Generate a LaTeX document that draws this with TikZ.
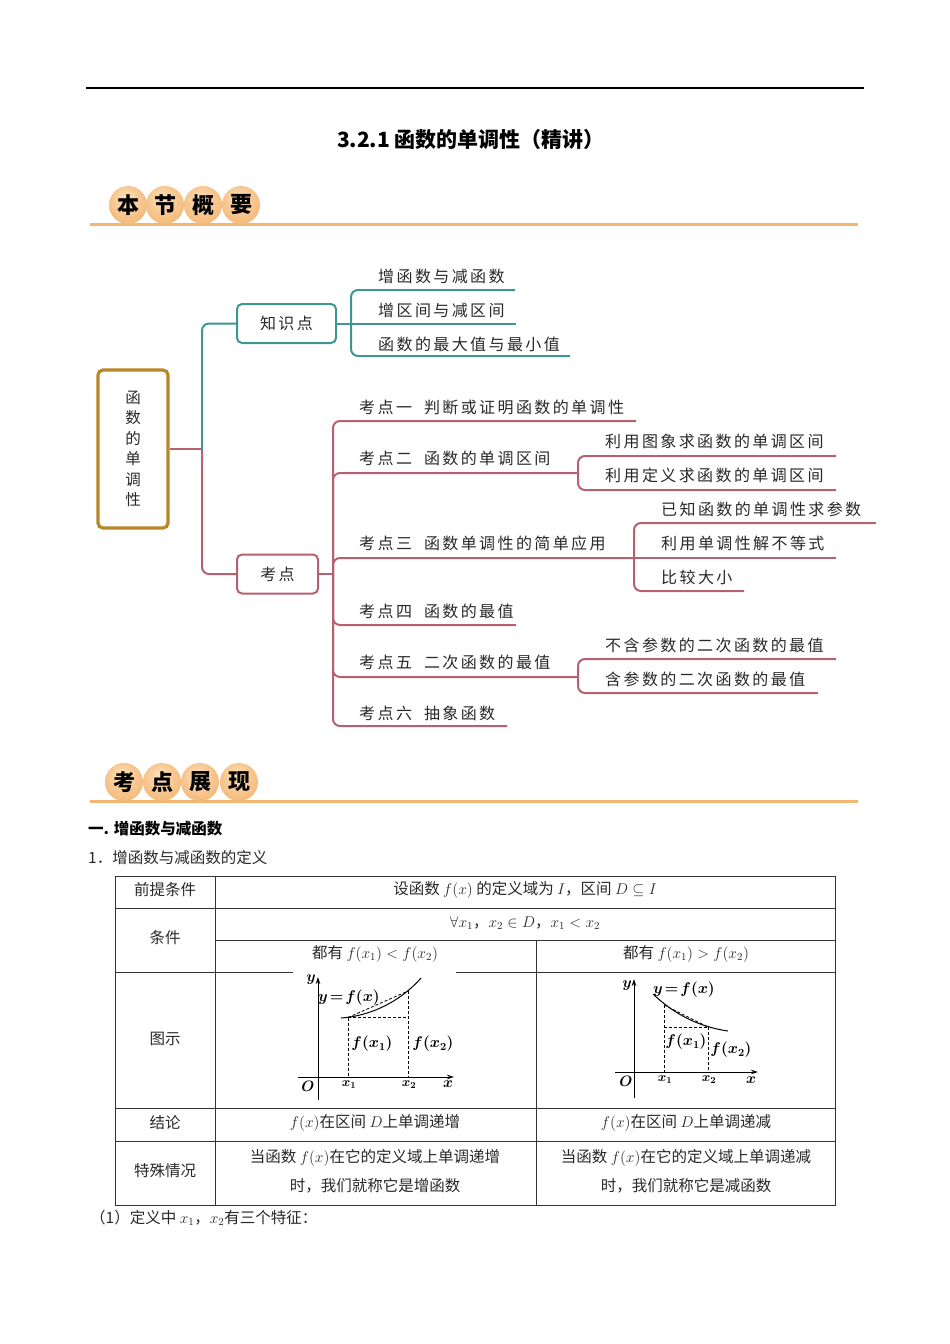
\documentclass[tikz,border=0pt]{standalone}
\usepackage{fix-cm}
\usepackage{fontspec}
\setmainfont{Noto Sans CJK SC}
\newfontfamily\mmfont[LetterSpace=15]{Noto Sans CJK SC}
\usetikzlibrary{arrows.meta}
\definecolor{tealc}{RGB}{62,150,146}
\definecolor{pinkc}{RGB}{182,96,112}
\definecolor{goldc}{RGB}{185,135,40}
\definecolor{bandc}{RGB}{242,182,112}
\definecolor{badgeA}{RGB}{253,226,188}
\definecolor{badgeB}{RGB}{238,160,82}
\definecolor{txtc}{RGB}{40,40,40}
\pgfdeclareradialshading{badge}{\pgfpoint{-4bp}{10bp}}{color(0bp)=(badgeA); color(18bp)=(badgeA!60!badgeB); color(50bp)=(badgeB)}
\begin{document}
\begin{tikzpicture}[x=1pt,y=-1pt,
  lbl/.style={anchor=base west, inner sep=0pt, text=txtc, font=\mmfont\fontsize{16}{16}\selectfont},
  tl/.style={line width=2pt, tealc, rounded corners=7pt},
  pl/.style={line width=2pt, pinkc, rounded corners=7pt},
  tbl/.style={line width=0.9pt, black!80},
  tx/.style={inner sep=0pt, text=txtc, font=\fontsize{15.5}{29}\selectfont, align=center},
  ax/.style={line width=1pt, -{Stealth[length=7pt,width=4.5pt]}},
  gl/.style={inner sep=0pt, font=\fontsize{15.5}{15}\selectfont\boldmath},
  gs/.style={inner sep=0pt, font=\fontsize{13}{13}\selectfont\boldmath},
  gm/.style={inner sep=0pt, font=\fontsize{15}{15}\selectfont\boldmath},
  dsh/.style={line width=0.8pt, dash pattern=on 3pt off 2pt},
  bdg/.style={inner sep=0pt, font=\bfseries\fontsize{22}{22}\selectfont}
]
\useasboundingbox (0,0) rectangle (950,1344);
% top rule and title
\draw[line width=1.3pt] (86,88) coordinate (r1) -- (864,88) coordinate (r2);
\node[inner sep=0pt, font=\bfseries\fontsize{21}{21}\selectfont] (title) at (471,140) {3.2.1 函数的单调性（精讲）};
% badge 1
\draw[bandc, line width=3pt] (90,224) coordinate (b1s) -- (858,224) coordinate (b1e);
\foreach \c/\t [count=\i] in {128/本,165/节,203/概,241/要}{
  \shade[shading=badge] (\c,205) circle (19);
  \node[bdg] (ba\i) at (\c,205) {\t};
}
% badge 2
\draw[bandc, line width=3pt] (90,801) coordinate (b2s) -- (858,801) coordinate (b2e);
\foreach \c/\t [count=\i] in {124/考,162/点,200/展,239/现}{
  \shade[shading=badge] (\c,782) circle (19);
  \node[bdg] (bb\i) at (\c,782) {\t};
}
% mind map
\node[draw=goldc, line width=3.2pt, rounded corners=5pt, minimum width=70pt, minimum height=158pt, inner sep=0pt] (root) at (133,449) {};
\node[inner sep=0pt, text=txtc, align=center, font=\fontsize{15.5}{20.5}\selectfont] (roott) at (133,449) {函\\数\\的\\单\\调\\性};
\node[draw=tealc, line width=2pt, rounded corners=5pt, minimum width=99pt, minimum height=39pt, inner sep=0pt, text=txtc, font=\mmfont\fontsize{16}{16}\selectfont] (zsd) at (286.5,323.5) {知识点};
\node[draw=pinkc, line width=2pt, rounded corners=5pt, minimum width=81pt, minimum height=39pt, inner sep=0pt, text=txtc, font=\mmfont\fontsize{16}{16}\selectfont] (kd) at (277.5,574) {考点};
\coordinate (hub) at (202,449);
\draw[pinkc, line width=2pt] (root.east) -- (hub);
\draw[tl] (hub) |- (zsd.west);
\draw[pl] (hub) |- (kd.west);
% knowledge branch
\coordinate (zb) at (351,323.5);
\draw[tealc, line width=2pt] (zsd.east) -- (zb);
\coordinate (z1) at (515,290);
\coordinate (z2) at (516,323.5);
\coordinate (z3) at (570,356);
\draw[tl] (zb) |- (z1);
\draw[tl] (zb) -- (z2);
\draw[tl] (zb) |- (z3);
\node[lbl] (zt1) at (378,282) {增函数与减函数};
\node[lbl] (zt2) at (378,316) {增区间与减区间};
\node[lbl] (zt3) at (378,350) {函数的最大值与最小值};
% kaodian branch
\coordinate (kb) at (333,574);
\draw[pinkc, line width=2pt] (kd.east) -- (kb);
\coordinate (k1) at (636,421);
\coordinate (k2) at (578,473);
\coordinate (k3) at (634,558);
\coordinate (k4) at (516,625);
\coordinate (k5) at (578,677);
\coordinate (k6) at (507,726);
\draw[pl] (kb) |- (k1);
\draw[pl] (kb) |- (k2);
\draw[pl] (kb) |- (k3);
\draw[pl] (kb) |- (k4);
\draw[pl] (kb) |- (k5);
\draw[pl] (kb) |- (k6);
\node[lbl] (kt1) at (359,413) {考点一\hspace{12pt}判断或证明函数的单调性};
\node[lbl] (kt2) at (359,464) {考点二\hspace{12pt}函数的单调区间};
\node[lbl] (kt3) at (359,549) {考点三\hspace{12pt}函数单调性的简单应用};
\node[lbl] (kt4) at (359,617) {考点四\hspace{12pt}函数的最值};
\node[lbl] (kt5) at (359,668) {考点五\hspace{12pt}二次函数的最值};
\node[lbl] (kt6) at (359,719) {考点六\hspace{12pt}抽象函数};
% sub of k2
\coordinate (k21) at (836,456);
\coordinate (k22) at (836,490);
\draw[pl] (k2) |- (k21);
\draw[pl] (k2) |- (k22);
\node[lbl] (k2t1) at (605,447) {利用图象求函数的单调区间};
\node[lbl] (k2t2) at (605,481) {利用定义求函数的单调区间};
% sub of k3
\coordinate (k31) at (876,523);
\coordinate (k32) at (836,558);
\coordinate (k33) at (744,591);
\draw[pl] (k3) |- (k31);
\draw[pl] (k3) -- (k32);
\draw[pl] (k3) |- (k33);
\node[lbl] (k3t1) at (661,515) {已知函数的单调性求参数};
\node[lbl] (k3t2) at (661,549) {利用单调性解不等式};
\node[lbl] (k3t3) at (661,583) {比较大小};
% sub of k5
\coordinate (k51) at (836,659);
\coordinate (k52) at (818,693);
\draw[pl] (k5) |- (k51);
\draw[pl] (k5) |- (k52);
\node[lbl] (k5t1) at (605,651) {不含参数的二次函数的最值};
\node[lbl] (k5t2) at (605,685) {含参数的二次函数的最值};
% section heading
\node[anchor=west, inner sep=0pt, font=\bfseries\fontsize{15.5}{16}\selectfont] (sec1) at (88,829) {一. 增函数与减函数};
\node[anchor=west, inner sep=0pt, text=txtc, font=\fontsize{15.5}{16}\selectfont] (sub1) at (88,858) {1．增函数与减函数的定义};
% table
\draw[tbl] (115,876) rectangle (835,1205);
\draw[tbl] (115,908) -- (835,908);
\draw[tbl] (215,940) -- (835,940);
\draw[tbl] (115,972) -- (293,972);
\draw[tbl] (456,972) -- (835,972);
\draw[tbl] (115,1108) -- (835,1108);
\draw[tbl] (115,1141) -- (835,1141);
\draw[tbl] (215,876) -- (215,1205);
\draw[tbl] (536,940) -- (536,1205);
\node[tx] (c11) at (165,890) {前提条件};
\node[tx] (c12) at (525,890) {设函数 $f(x)$ 的定义域为 $I$，区间 $D\subseteq I$};
\node[tx] (c21) at (165,938) {条件};
\node[tx] (c22) at (525,923) {$\forall x_1$，$x_2\in D$，$x_1<x_2$};
\node[tx] (c23) at (375,954) {都有 $f(x_1)<f(x_2)$};
\node[tx] (c24) at (686,954) {都有 $f(x_1)>f(x_2)$};
\node[tx] (c31) at (165,1039) {图示};
\node[tx] (c41) at (165,1123) {结论};
\node[tx] (c42) at (375,1123) {$f(x)$在区间 $D$上单调递增};
\node[tx] (c43) at (686,1123) {$f(x)$在区间 $D$上单调递减};
\node[tx] (c51) at (165,1171) {特殊情况};
\node[tx] (c52) at (375,1171) {当函数 $f(x)$在它的定义域上单调递增\\时，我们就称它是增函数};
\node[tx] (c53) at (686,1171) {当函数 $f(x)$在它的定义域上单调递减\\时，我们就称它是减函数};
\node[anchor=west, inner sep=0pt, text=txtc, font=\fontsize{15.5}{16}\selectfont] (note) at (90,1218) {（1）定义中 $x_1$，$x_2$有三个特征：};
% left graph
\coordinate (ly0) at (318,1100); \coordinate (ly1) at (318,977);
\coordinate (lx0) at (298,1077); \coordinate (lx1) at (454,1077);
\draw[ax] (ly0) -- (ly1);
\draw[ax] (lx0) -- (lx1);
\coordinate (lp1) at (348,1017.5); \coordinate (lp2) at (408,991);
\draw[line width=1pt] (341,1018) .. controls (370,1016) and (400,1002) .. (421,978);
\draw[dsh] (lp1) -- (lp2);
\draw[dsh] (lp1) -- (408,1017.5);
\draw[dsh] (lp1) -- (348,1077);
\draw[dsh] (lp2) -- (408,1077);
\node[gl] (ll1) at (349,998) {$y\!=\!f(x)$};
\node[gl] (ll2) at (372,1044) {$f(x_1)$};
\node[gl] (ll3) at (433,1044) {$f(x_2)$};
\node[gm] (llo) at (308,1086) {$O$};
\node[gs] (llx1) at (349,1085) {$x_1$};
\node[gs] (llx2) at (409,1085) {$x_2$};
\node[gm] (llx) at (448,1084) {$x$};
\node[gm] (lly) at (311,980) {$y$};
% right graph
\coordinate (ry0) at (634,1098); \coordinate (ry1) at (634,979);
\coordinate (rx0) at (615,1072); \coordinate (rx1) at (758,1072);
\draw[ax] (ry0) -- (ry1);
\draw[ax] (rx0) -- (rx1);
\coordinate (rp1) at (664,1005); \coordinate (rp2) at (708,1027);
\draw[line width=1pt] (653,994) .. controls (675,1015) and (700,1027) .. (728,1031);
\draw[dsh] (rp1) -- (rp2);
\draw[dsh] (664,1027) -- (rp2);
\draw[dsh] (rp1) -- (664,1072);
\draw[dsh] (rp2) -- (708,1072);
\node[gl] (rl1) at (684,990) {$y\!=\!f(x)$};
\node[gl] (rl2) at (686,1042) {$f(x_1)$};
\node[gl] (rl3) at (731,1050) {$f(x_2)$};
\node[gm] (rlo) at (626,1081) {$O$};
\node[gs] (rlx1) at (665,1080) {$x_1$};
\node[gs] (rlx2) at (709,1080) {$x_2$};
\node[gm] (rlx) at (751,1080) {$x$};
\node[gm] (rly) at (627,986) {$y$};
\end{tikzpicture}
\end{document}
